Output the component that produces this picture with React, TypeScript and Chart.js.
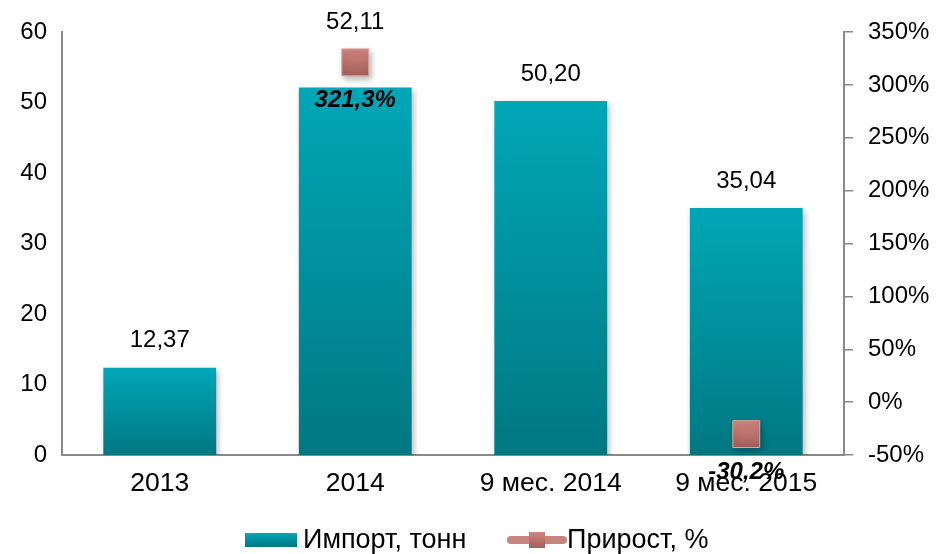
import React, { useEffect, useRef } from "react";
import { Chart, registerables } from "chart.js";

Chart.register(...registerables);

const categories = ["2013", "2014", "9 мес. 2014", "9 мес. 2015"];
const importValues = [12.37, 52.11, 50.2, 35.04];
const growthValues: (number | null)[] = [null, 321.3, null, -30.2];
const leftTicks = { min: 0, max: 60, step: 10 };
const rightTicks = { min: -50, max: 350, step: 50 };
const seriesNames = ["Импорт, тонн", "Прирост, %"];

const FONT = "'Liberation Sans', Arial, sans-serif";
const AXIS = "#898989";

function barGradient(ctx: CanvasRenderingContext2D, top: number, bottom: number) {
  const g = ctx.createLinearGradient(0, top, 0, bottom);
  g.addColorStop(0, "#00A7B7");
  g.addColorStop(1, "#007882");
  return g;
}
function markerGradient(ctx: CanvasRenderingContext2D, top: number, bottom: number) {
  const g = ctx.createLinearGradient(0, top, 0, bottom);
  g.addColorStop(0, "#D0857F");
  g.addColorStop(1, "#A65F5B");
  return g;
}

const shadowPlugin = {
  id: "shadows",
  beforeDatasetDraw(chart: any) {
    const ctx = chart.ctx;
    ctx.save();
    ctx.shadowColor = "rgba(0,0,0,0.28)";
    ctx.shadowBlur = 6;
    ctx.shadowOffsetX = 2;
    ctx.shadowOffsetY = 3;
  },
  afterDatasetDraw(chart: any) {
    chart.ctx.restore();
  },
};

const labelsPlugin = {
  id: "valueLabels",
  afterDraw(chart: any) {
    const ctx = chart.ctx;
    ctx.save();
    ctx.textAlign = "center";
    ctx.textBaseline = "middle";
    ctx.fillStyle = "#000";
    const barMeta = chart.getDatasetMeta(0);
    const lineMeta = chart.getDatasetMeta(1);
    ctx.font = `24px ${FONT}`;
    barMeta.data.forEach((el: any, i: number) => {
      const v = importValues[i];
      let y = el.y - 27;
      const p = lineMeta.data[i];
      if (growthValues[i] != null && p && p.y < el.y && p.y - 40 < y) y = p.y - 40;
      ctx.fillText(v.toFixed(2).replace(".", ","), el.x, y);
    });
    ctx.font = `italic bold 24px ${FONT}`;
    lineMeta.data.forEach((el: any, i: number) => {
      const v = growthValues[i];
      if (v === null || v === undefined) return;
      ctx.fillText(v.toFixed(1).replace(".", ",") + "%", el.x, el.y + 38);
    });

    // legend
    const ly = 540;
    ctx.font = `27px ${FONT}`;
    ctx.textAlign = "left";
    ctx.fillStyle = barGradient(ctx, 533, 547);
    ctx.fillRect(245, 533, 52, 14);
    ctx.fillStyle = "#000";
    ctx.fillText(seriesNames[0], 303, ly + 1);

    ctx.strokeStyle = "#C8847F";
    ctx.lineWidth = 8;
    ctx.lineCap = "round";
    ctx.beginPath();
    ctx.moveTo(511, ly);
    ctx.lineTo(563, ly);
    ctx.stroke();
    ctx.fillStyle = markerGradient(ctx, 532, 548);
    ctx.fillRect(529, 532, 16, 16);
    ctx.fillStyle = "#000";
    ctx.fillText(seriesNames[1], 567, ly + 1);
    ctx.restore();
  },
};

export default function App() {
  const ref = useRef<HTMLCanvasElement | null>(null);
  useEffect(() => {
    if (!ref.current) return;
    const chart = new Chart(ref.current, {
      type: "bar",
      data: {
        labels: categories,
        datasets: [
          {
            type: "bar",
            label: seriesNames[0],
            data: importValues,
            yAxisID: "y",
            order: 2,
            backgroundColor: (c: any) => {
              const ch = c.chart;
              const y = ch.scales?.y;
              if (!ch.chartArea || !y || c.raw == null) return "#0093A0";
              return barGradient(ch.ctx, y.getPixelForValue(c.raw), y.getPixelForValue(0));
            },
            borderWidth: 0,
            categoryPercentage: 1,
            barPercentage: 0.577,
          },
          {
            type: "line",
            label: seriesNames[1],
            data: growthValues,
            yAxisID: "y1",
            order: 1,
            spanGaps: false,
            borderColor: "#C8847F",
            borderWidth: 8,
            pointStyle: "rect",
            pointRadius: 19,
            pointHoverRadius: 19,
            pointBorderWidth: 1,
            pointBorderColor: "#DBA5A0",
            pointBackgroundColor: (c: any) => {
              const ch = c.chart;
              const y = ch.scales?.y1;
              if (!ch.chartArea || !y || c.raw == null) return "#BE7570";
              const py = y.getPixelForValue(c.raw);
              return markerGradient(ch.ctx, py - 13, py + 13);
            },
          } as any,
        ],
      },
      options: {
        responsive: false,
        animation: false,
        layout: { padding: { top: 32, left: 0, right: 0, bottom: 0 } },
        plugins: { legend: { display: false }, tooltip: { enabled: false } },
        scales: {
          x: {
            grid: { display: false, drawTicks: false },
            border: { display: true, color: AXIS, width: 2 },
            ticks: { color: "#000", font: { family: FONT, size: 26.5 }, padding: 13, maxRotation: 0, autoSkip: false },
            afterFit: (s: any) => {
              s.height = 99;
            },
          },
          y: {
            position: "left",
            min: leftTicks.min,
            max: leftTicks.max,
            grid: { display: false, drawTicks: false },
            border: { display: true, color: AXIS, width: 2 },
            ticks: { stepSize: leftTicks.step, color: "#000", font: { family: FONT, size: 24 }, padding: 15 },
            afterFit: (s: any) => {
              s.width = 62;
            },
          },
          y1: {
            position: "right",
            min: rightTicks.min,
            max: rightTicks.max,
            grid: { display: true, drawOnChartArea: false, drawTicks: true, tickLength: 9, color: AXIS, lineWidth: 1.5 },
            border: { display: true, color: AXIS, width: 2 },
            ticks: {
              stepSize: rightTicks.step,
              color: "#000",
              font: { family: FONT, size: 24 },
              padding: 15,
              callback: (v: any) => `${v}%`,
            },
            afterFit: (s: any) => {
              s.width = 93;
            },
          },
        },
      },
      plugins: [shadowPlugin, labelsPlugin],
    } as any);
    return () => chart.destroy();
  }, []);
  return (
    <div style={{ position: "absolute", left: 0, top: 0, width: 937, height: 554 }}>
      <canvas ref={ref} width={937} height={554} />
    </div>
  );
}
